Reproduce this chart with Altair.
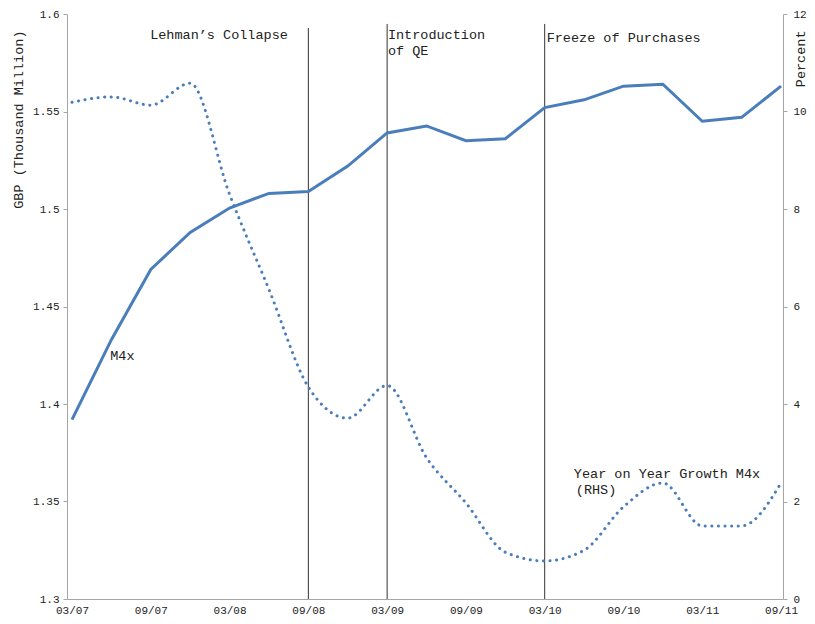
import altair as alt
import pandas as pd

quarters = ["03/07", "06/07", "09/07", "12/07", "03/08", "06/08", "09/08", "12/08",
            "03/09", "06/09", "09/09", "12/09", "03/10", "06/10", "09/10", "12/10",
            "03/11", "06/11", "09/11"]
m4x = [1.392, 1.433, 1.469, 1.488, 1.5005, 1.508, 1.509, 1.522, 1.539, 1.5426,
       1.535, 1.536, 1.552, 1.556, 1.563, 1.564, 1.545, 1.547, 1.563]
growth = [10.19, 10.30, 10.13, 10.58, 8.3, 6.35, 4.35, 3.71, 4.38, 2.9,
          1.97, 0.96, 0.78, 1.0, 1.89, 2.38, 1.5, 1.5, 2.38]

event_names = ["Lehman\u2019s Collapse", "Introduction of QE", "Freeze of Purchases"]
event_idx = [6, 8, 12]
event_top = [1.5928, 1.5949, 1.5949]

notes_text = ["Lehman\u2019s Collapse", "Introduction", "of QE", "Freeze of Purchases",
              "M4x", "Year on Year Growth M4x", "(RHS)"]
notes_x = [5.48, 8.02, 8.02, 12.05, 0.97, 12.74, 12.79]
notes_y = [1.5892, 1.5892, 1.5810, 1.5877, 1.4246, 1.3640, 1.3559]
notes_align = ["right", "left", "left", "left", "left", "left", "left"]

df = pd.DataFrame({"idx": list(range(len(quarters))), "q": quarters,
                   "m4x": m4x, "growth": growth})
ev = pd.DataFrame({"idx": event_idx, "name": event_names, "top": event_top,
                   "bottom": [1.3] * len(event_idx)})
notes = pd.DataFrame({"t": notes_text, "x": notes_x, "y": notes_y, "a": notes_align})

FONT = "Liberation Mono"
xdom = [-0.127, 18.05]
xscale = alt.Scale(domain=xdom, nice=False, zero=False)
yl = alt.Scale(domain=[1.3, 1.6], nice=False, zero=False)
yr = alt.Scale(domain=[0, 12], nice=False, zero=False)

label_expr = "[" + ",".join("'%s'" % q for q in quarters) + "][datum.value]"

xaxis = alt.Axis(values=list(range(0, len(quarters), 2)), labelExpr=label_expr,
                 ticks=False, grid=False, domainColor="#a6a6a6", labelFont=FONT,
                 labelFontSize=11, labelColor="#222222", labelPadding=5, title=None)

left_axis = alt.Axis(values=[1.3, 1.35, 1.4, 1.45, 1.5, 1.55, 1.6], format="~g",
                     grid=False, tickSize=4, tickColor="#a6a6a6", domainColor="#a6a6a6",
                     labelFont=FONT, labelFontSize=11, labelColor="#222222", labelPadding=4,
                     title="GBP (Thousand Million)", titleFont=FONT, titleFontSize=13.5,
                     titleFontWeight="normal", titleColor="#222222", titleAngle=270,
                     titleAlign="right", titleBaseline="middle", titleX=-49, titleY=16)

right_axis = alt.Axis(values=[0, 2, 4, 6, 8, 10, 12], orient="right", grid=False,
                      tickSize=4, tickColor="#a6a6a6", domainColor="#a6a6a6",
                      labelFont=FONT, labelFontSize=11, labelColor="#222222", labelPadding=6,
                      title="Percent", titleFont=FONT, titleFontSize=13.5,
                      titleFontWeight="normal", titleColor="#222222", titleAngle=270,
                      titleAlign="right", titleBaseline="middle", titleX=17, titleY=16)

solid = alt.Chart(df).mark_line(color="#4a7ebb", strokeWidth=3).encode(
    x=alt.X("idx:Q", scale=xscale, axis=xaxis),
    y=alt.Y("m4x:Q", scale=yl, axis=left_axis),
)

rules = alt.Chart(ev).mark_rule(color="#333333", strokeWidth=1).encode(
    x=alt.X("idx:Q", scale=xscale, axis=xaxis),
    y=alt.Y("bottom:Q", scale=yl, axis=left_axis),
    y2="top:Q",
)


def text_layer(al):
    return alt.Chart(notes).transform_filter(alt.datum.a == al).mark_text(
        font=FONT, fontSize=13.5, color="#222222", baseline="middle", align=al
    ).encode(
        x=alt.X("x:Q", scale=xscale, axis=xaxis),
        y=alt.Y("y:Q", scale=yl, axis=left_axis),
        text="t:N",
    )


left = alt.layer(rules, solid, text_layer("right"), text_layer("left"))

dotted = alt.Chart(df).mark_line(color="#4a7ebb", strokeWidth=3, strokeDash=[0.1, 6.5],
                                 strokeCap="round", interpolate="monotone").encode(
    x=alt.X("idx:Q", scale=xscale, axis=xaxis),
    y=alt.Y("growth:Q", scale=yr, axis=right_axis),
)

chart = alt.layer(left, dotted).resolve_scale(y="independent").properties(
    width=716, height=585,
    autosize=alt.AutoSizeParams(type="none"),
    padding={"left": 59, "top": 6, "right": 24, "bottom": 20},
).configure_view(stroke=None)

chart.save("out.html", embed_options={"renderer": "svg", "actions": False})
